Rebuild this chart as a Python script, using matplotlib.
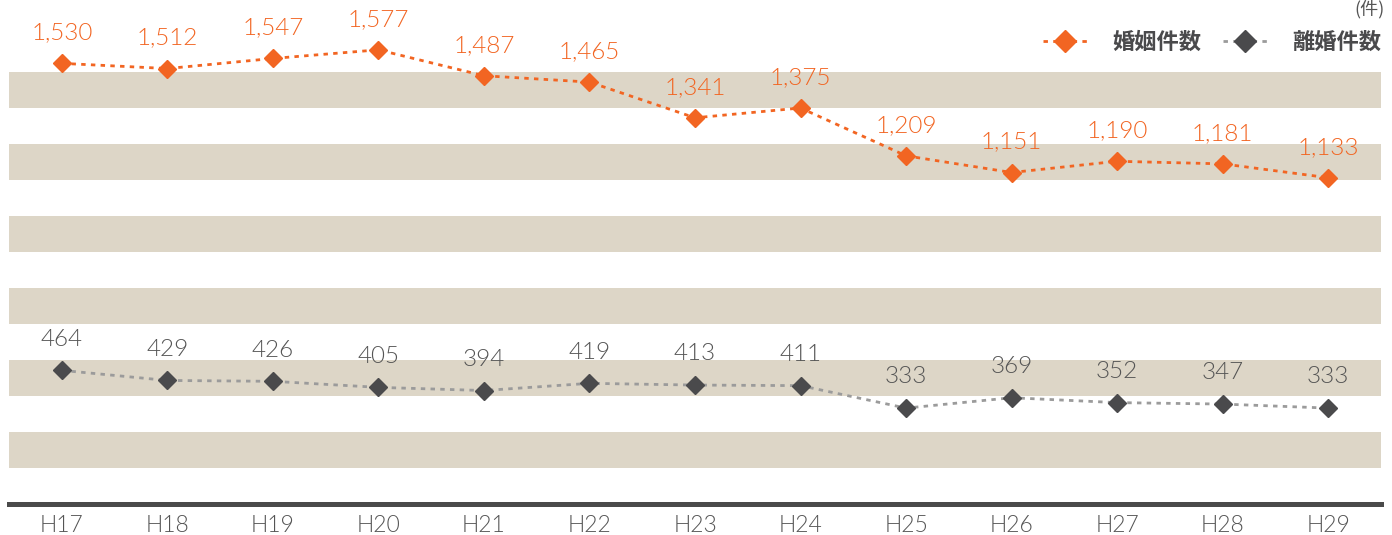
import matplotlib
matplotlib.use("Agg")
import matplotlib.pyplot as plt
from matplotlib.lines import Line2D

plt.rcParams['font.family'] = ['Noto Sans CJK JP', 'DejaVu Sans']

years = ["H17", "H18", "H19", "H20", "H21", "H22", "H23", "H24", "H25", "H26", "H27", "H28", "H29"]
marriages = [1530, 1512, 1547, 1577, 1487, 1465, 1341, 1375, 1209, 1151, 1190, 1181, 1133]
divorces = [464, 429, 426, 405, 394, 419, 413, 411, 333, 369, 352, 347, 333]
series_names = ["婚姻件数", "離婚件数"]
unit_label = "(件)"

ORANGE = "#F26522"
DARK = "#4a4a4c"
LINE_GRAY = "#9b9b9b"
BAND = "#ddd6c7"
TEXT_GRAY = "#555555"
NUM_FONT = dict(family=["Lato", "DejaVu Sans"], weight=300)

fig = plt.figure(figsize=(13.92, 5.35), dpi=100)
ax = fig.add_axes([9 / 1392, 31 / 535, 1372 / 1392, 504 / 535])

x = list(range(len(years)))
ax.set_xlim(-0.5, len(years) - 0.5)
ax.set_ylim(0, 1750)

for k in range(6):
    ax.axhspan(125 + 250 * k, 250 + 250 * k, color=BAND, lw=0, zorder=0)

ax.axhline(0, color="#4a4a4a", lw=3.6, clip_on=False, zorder=3)

ax.plot(x, marriages, color=ORANGE, lw=2, linestyle=(0, (1.6, 1.9)),
        marker="D", ms=9.5, mfc=ORANGE, mec=ORANGE, zorder=4)
ax.plot(x, divorces, color=LINE_GRAY, lw=2, linestyle=(0, (1.6, 1.9)),
        marker="D", ms=9.5, mfc=DARK, mec=DARK, zorder=4)

for xi, v in zip(x, marriages):
    ax.annotate(f"{v:,}", (xi, v), xytext=(0, 22), textcoords="offset points",
                ha="center", va="center", color=ORANGE, fontsize=17.5, **NUM_FONT)
for xi, v in zip(x, divorces):
    ax.annotate(f"{v:,}", (xi, v), xytext=(0, 22.5), textcoords="offset points",
                ha="center", va="center", color=TEXT_GRAY, fontsize=17.5, **NUM_FONT)

ax.set_xticks(x)
ax.set_xticklabels(years, fontsize=16.5, color=TEXT_GRAY, **NUM_FONT)
ax.tick_params(axis="x", length=0, pad=8)
ax.set_yticks([])
for s in ax.spines.values():
    s.set_visible(False)

handles = [
    Line2D([], [], color=ORANGE, lw=2, linestyle=(0, (1.6, 1.9)), marker="D", ms=11,
           mfc=ORANGE, mec=ORANGE),
    Line2D([], [], color=LINE_GRAY, lw=2, linestyle=(0, (1.6, 1.9)), marker="D", ms=11,
           mfc=DARK, mec=DARK),
]
leg = fig.legend(handles, series_names, loc="upper right", ncol=2, frameon=False,
                 bbox_to_anchor=(1381 / 1392, 1 - 31 / 535), borderaxespad=0, borderpad=0,
                 handlelength=2.0, handletextpad=1.1, columnspacing=1.0,
                 prop={"size": 16, "weight": "bold"})
for t in leg.get_texts():
    t.set_color(DARK)

fig.text(1385 / 1392, 1.0, unit_label, ha="right", va="top",
         fontsize=13, color=TEXT_GRAY)

fig.savefig("out.png", dpi=100)
